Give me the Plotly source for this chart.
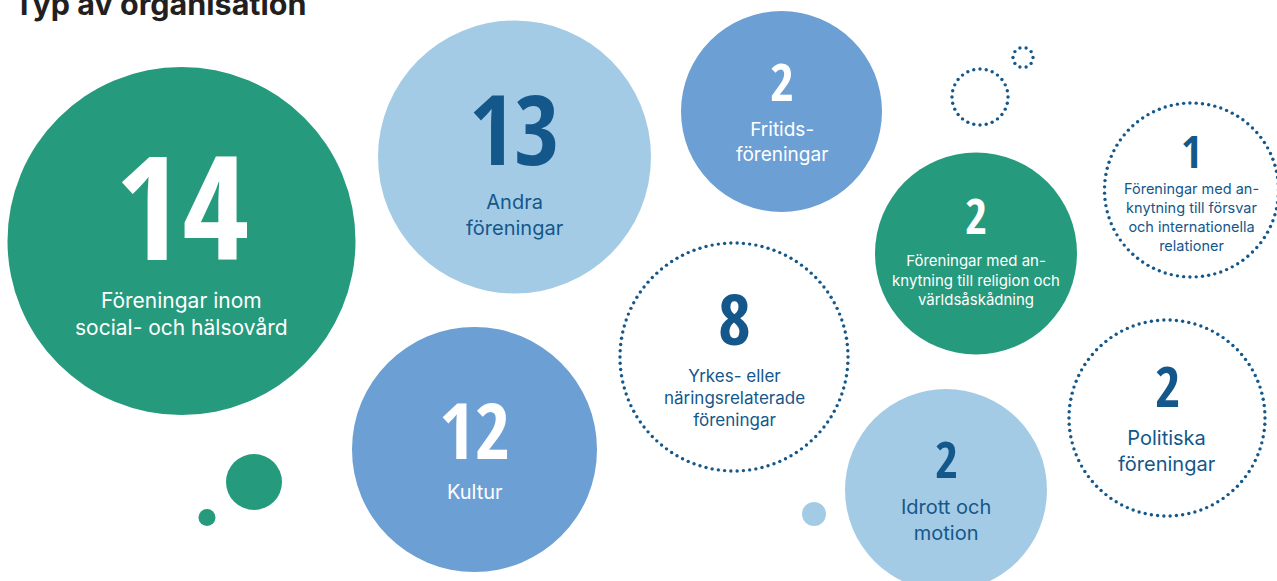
import numpy as np
import plotly.graph_objects as go

# ---- data ----
categories = [
    "Föreningar inom<br>social- och hälsovård",
    "Andra<br>föreningar",
    "Fritids-<br>föreningar",
    "Föreningar med an-<br>knytning till religion och<br>världsåskådning",
    "Föreningar med an-<br>knytning till försvar<br>och internationella<br>relationer",
    "Yrkes- eller<br>näringsrelaterade<br>föreningar",
    "Kultur",
    "Idrott och<br>motion",
    "Politiska<br>föreningar",
]
values = [14, 13, 2, 2, 1, 8, 12, 2, 2]

title_text = "Typ av organisation"

# ---- layout of the bubbles (position / size / style) ----
GREEN = "#259A7C"
LIGHT = "#A4CBE5"
MID = "#6C9FD4"
DARK = "#14578A"
WHITE = "#FFFFFF"

# cx, cy, r, style, number size, number y, label size, label y
bubble_layout = [
    (181.5, 241, 174, "green", 145, 203, 21, 314),
    (514.5, 157, 136.5, "light", 98, 126.5, 20, 215),
    (781.5, 111.5, 100.5, "mid", 52, 80.5, 19, 142),
    (976, 253.5, 101, "green", 48, 215, 15, 280),
    (1191.5, 190, 87, "dotted", 45, 150, 14.5, 217),
    (734, 357, 114, "dotted", 71, 317.5, 17, 398),
    (474.5, 449.5, 122.5, "mid", 77, 429.5, 20, 492),
    (946, 490, 101, "light", 50, 458.5, 20, 520),
    (1167, 418, 98, "dotted", 55, 385.5, 20, 451),
]

decor = [
    (254, 482, 28, "green"),
    (207, 517.5, 8.5, "green"),
    (814, 514, 12, "light"),
    (980, 97, 28, "dotted"),
    (1023, 57.5, 10, "dotted"),
]

fill_of = {"green": GREEN, "light": LIGHT, "mid": MID}
text_of = {"green": WHITE, "light": DARK, "mid": WHITE, "dotted": DARK}

NUM_FONT = "Open Sans Condensed, Roboto Condensed, DejaVu Sans Condensed, sans-serif"
LBL_FONT = "Inter, Lato, Noto Sans, sans-serif"

fig = go.Figure()
shapes = []
dot_x, dot_y = [], []


def add_circle(cx, cy, r, style):
    if style == "dotted":
        n = int(round(2 * np.pi * r / 6.3))
        t = np.linspace(0, 2 * np.pi, n, endpoint=False)
        dot_x.extend(cx + r * np.cos(t))
        dot_y.extend(cy + r * np.sin(t))
    else:
        shapes.append(dict(type="circle", xref="x", yref="y",
                           x0=cx - r, x1=cx + r, y0=cy - r, y1=cy + r,
                           fillcolor=fill_of[style], line=dict(width=0),
                           layer="below"))


for (cx, cy, r, style) in decor:
    add_circle(cx, cy, r, style)

annotations = []
for cat, val, (cx, cy, r, style, ns, ny, ls, ly) in zip(categories, values, bubble_layout):
    add_circle(cx, cy, r, style)
    col = text_of[style]
    annotations.append(dict(x=cx, y=ny, xref="x", yref="y", text=str(val),
                            showarrow=False, xanchor="center", yanchor="middle",
                            font=dict(family=NUM_FONT, size=ns, color=col, weight=800)))
    annotations.append(dict(x=cx, y=ly, xref="x", yref="y", text=cat,
                            showarrow=False, xanchor="center", yanchor="middle",
                            align="center",
                            font=dict(family=LBL_FONT, size=ls, color=col)))

H = 581
annotations.append(dict(x=12, y=1 - 3.0 / H, xref="x", yref="paper", text=f"<b>{title_text}</b>",
                        showarrow=False, xanchor="left", yanchor="middle",
                        font=dict(family=LBL_FONT, size=30.5, color="#231F20")))

fig.add_trace(go.Scatter(x=dot_x, y=dot_y, mode="markers",
                         marker=dict(size=3.4, color=DARK, line=dict(width=0)),
                         hoverinfo="skip", showlegend=False))

fig.update_layout(
    width=1277, height=H, autosize=False,
    margin=dict(l=0, r=0, t=0, b=0),
    paper_bgcolor="white", plot_bgcolor="white",
    shapes=shapes, annotations=annotations,
    xaxis=dict(range=[0, 1277], visible=False, fixedrange=True),
    yaxis=dict(range=[H, 0], visible=False, fixedrange=True),
    showlegend=False,
)

fig.write_html("out.html", config={"displayModeBar": False},
               post_script="document.body.style.margin='0';")
